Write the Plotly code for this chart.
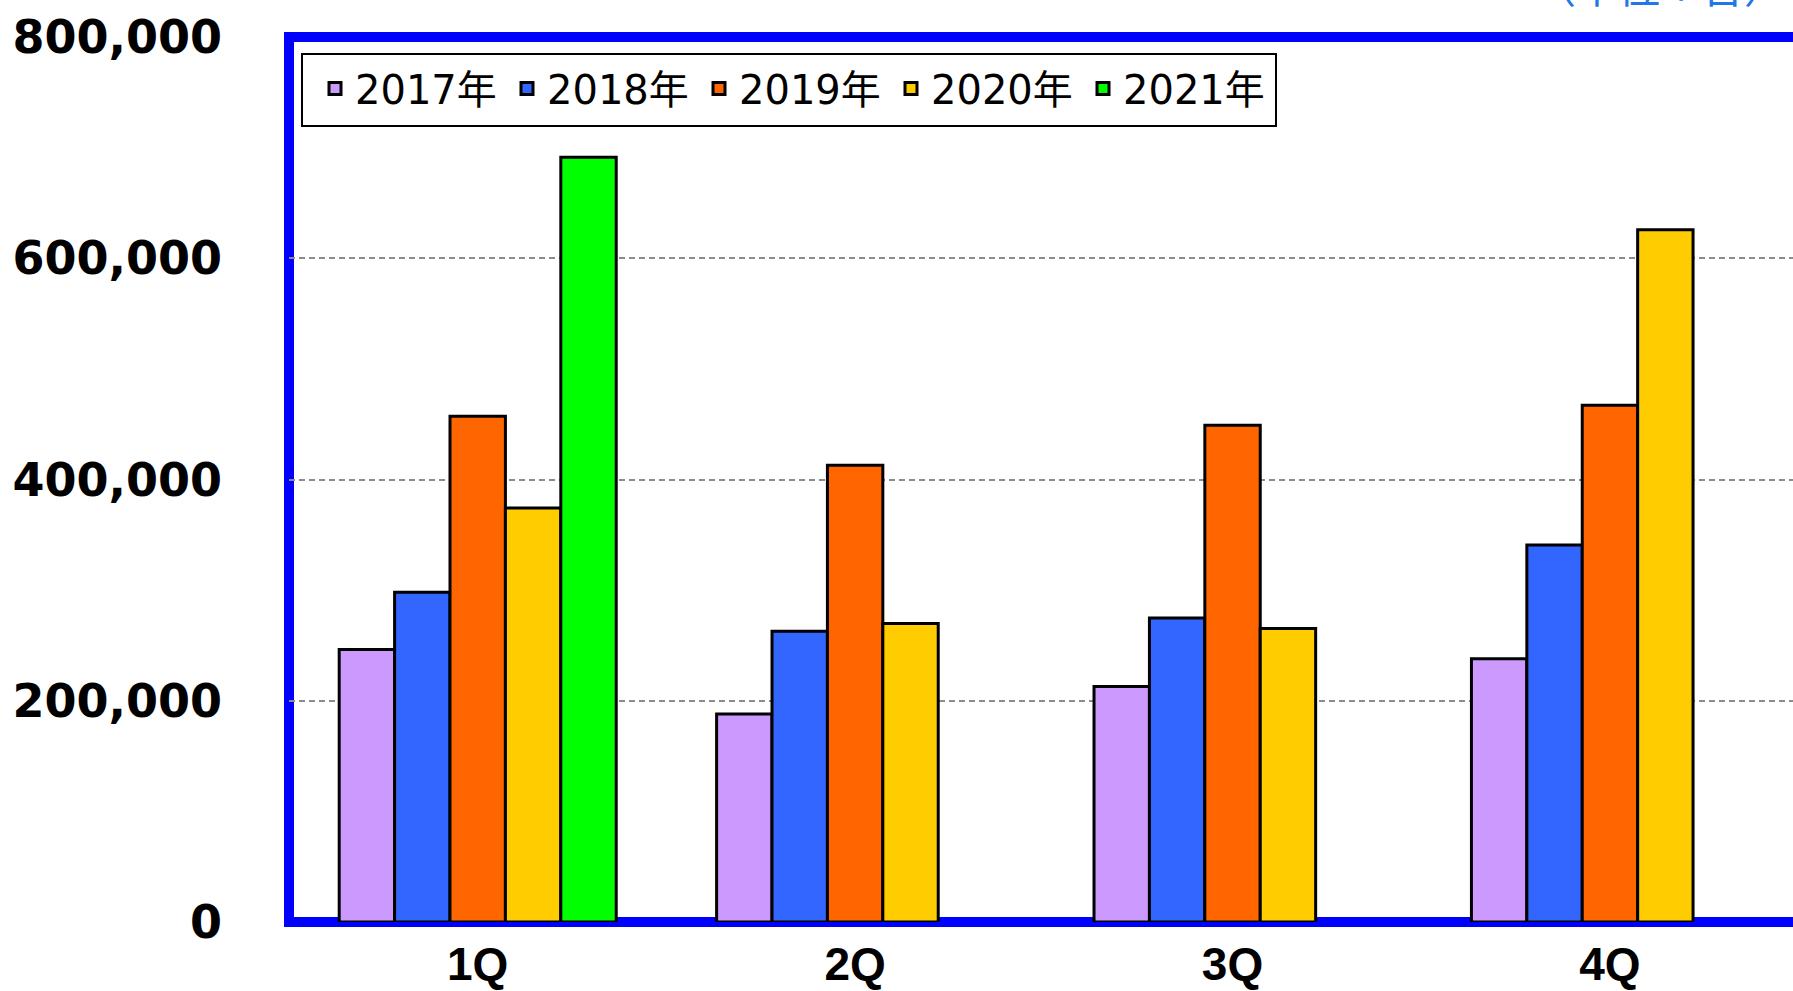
import plotly.graph_objects as go

# Quarterly unit counts by year
quarters = ["1Q", "2Q", "3Q", "4Q"]
years = ["2017年", "2018年", "2019年", "2020年", "2021年"]
v2017 = [246400, 188000, 212900, 237900]
v2018 = [298100, 262900, 274900, 340900]
v2019 = [457200, 412900, 449100, 467100]
v2020 = [374300, 269800, 265300, 625800]
v2021 = [691200, None, None, None]
y_ticks = [0, 200000, 400000, 600000, 800000]
y_tick_text = ["0", "200,000", "400,000", "600,000", "800,000"]

series = [v2017, v2018, v2019, v2020, v2021]
colors = ["#CC99FF", "#3366FF", "#FF6600", "#FFCC00", "#00FF00"]

W, H = 1793, 991
L, T, B = 289, 37, 69
PW, PH = W - L, H - T - B


def px_x(px):
    return (px - L) / PW


def px_y(py):
    return 1 - (py - T) / PH


fig = go.Figure()
for name, vals, col in zip(years, series, colors):
    fig.add_trace(go.Bar(
        x=quarters, y=vals, name=name,
        marker=dict(color=col, line=dict(color="black", width=3)),
    ))

fig.update_layout(
    width=W, height=H,
    margin=dict(l=L, r=0, t=T, b=B, pad=0),
    paper_bgcolor="white", plot_bgcolor="white",
    barmode="group", bargap=0.266, bargroupgap=0,
    showlegend=True,
    legend=dict(
        orientation="h",
        x=px_x(315), y=px_y(56),
        xanchor="left", yanchor="top",
        bgcolor="rgba(0,0,0,0)", borderwidth=0,
        font=dict(family="DejaVu Sans, Noto Sans CJK JP", size=40, color="black"),
        entrywidth=147, entrywidthmode="pixels",
        itemwidth=30, traceorder="normal",
    ),
    xaxis=dict(
        type="category", range=[-0.5, 3.485],
        showgrid=False, showline=False, zeroline=False,
        ticks="", ticklabelstandoff=11, automargin=False,
        tickfont=dict(family="Liberation Sans, Arial", size=46, color="black", weight="bold"),
    ),
    yaxis=dict(
        range=[0, 800000],
        tickvals=y_ticks, ticktext=y_tick_text,
        showgrid=True, gridcolor="#8C8C8C", gridwidth=1.5, griddash="6px,4px",
        showline=False, zeroline=False,
        ticks="", ticklabelstandoff=66, automargin=False,
        tickfont=dict(family="DejaVu Sans, Verdana", size=46, color="black", weight="bold"),
    ),
    shapes=[
        # blue plot frame (right side runs past the page edge)
        dict(type="rect", xref="paper", yref="paper",
             x0=0, x1=1.02, y0=0, y1=1,
             line=dict(color="#0000FF", width=10),
             fillcolor="rgba(0,0,0,0)", layer="below"),
        # legend box
        dict(type="rect", xref="paper", yref="paper",
             x0=px_x(302), x1=px_x(1276), y0=px_y(126), y1=px_y(54),
             line=dict(color="black", width=2),
             fillcolor="white", layer="above"),
    ],
    annotations=[
        dict(text="（単位：台）", xref="paper", yref="paper",
             x=px_x(1660), y=px_y(-15),
             xanchor="center", yanchor="middle", showarrow=False,
             font=dict(family="Noto Sans CJK JP", size=42, color="#1F78E6")),
    ],
)

fig.write_html("out.html")
